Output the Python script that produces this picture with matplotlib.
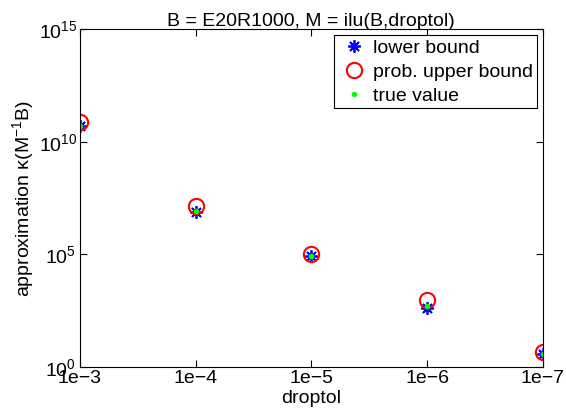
import matplotlib
matplotlib.use('Agg')
import matplotlib.pyplot as plt
import numpy as np

# droptol 類別與估計值
droptol_labels = ['1e−3', '1e−4', '1e−5', '1e−6', '1e−7']
lower_bound = [10**10.68, 10**6.90, 10**4.92, 10**2.64, 10**0.57]
upper_bound = [10**10.90, 10**7.16, 10**5.03, 10**2.98, 10**0.67]
true_value = [10**10.68, 10**6.94, 10**4.92, 10**2.71, 10**0.56]
y_exponents = [0, 5, 10, 15]

plt.rcParams['font.family'] = ['Liberation Sans', 'DejaVu Sans']
plt.rcParams['mathtext.fontset'] = 'custom'
plt.rcParams['mathtext.rm'] = 'Liberation Sans'
plt.rcParams['mathtext.it'] = 'Liberation Sans:italic'
plt.rcParams['mathtext.default'] = 'regular'

x = np.arange(1, len(droptol_labels) + 1)

fig = plt.figure(figsize=(5.66, 4.11), dpi=100)
ax = fig.add_axes([0.141, 0.107, 0.818, 0.822])

ax.semilogy(x, lower_bound, linestyle='none', marker=(8, 2, 0), color='blue',
            markersize=9, markeredgewidth=1.3, label='lower bound')
ax.semilogy(x, upper_bound, linestyle='none', marker='o', markerfacecolor='none',
            markeredgecolor='red', markersize=11, markeredgewidth=1.5,
            label='prob. upper bound')
ax.semilogy(x, true_value, linestyle='none', marker='.', color=(0, 1, 0),
            markersize=6, label='true value')

ax.set_xlim(1, 5)
ax.set_ylim(1e0, 1e15)
ax.set_xticks(x)
ax.set_xticklabels(droptol_labels)
ax.set_yticks([10.0**e for e in y_exponents])
# MATLAB 風格：底數 10 大致對齊，單位數指數右側留空
ax.set_yticklabels(['$10^{%d}$' % e + (' ' if e < 10 else '') for e in y_exponents])
ax.yaxis.set_minor_locator(matplotlib.ticker.NullLocator())
ax.tick_params(direction='in', top=True, right=True, length=5, labelsize=14)
ax.tick_params(axis='y', pad=2)
ax.tick_params(axis='x', pad=2)

ax.set_xlabel('droptol', fontsize=14, labelpad=2)
ax.set_ylabel('approximation κ(M$^{-1}$B)', fontsize=14, labelpad=2)
ax.set_title('B = E20R1000, M = ilu(B,droptol)', fontsize=14, pad=2)

leg = ax.legend(loc='upper right', fontsize=14, fancybox=False, framealpha=1,
                edgecolor='black', borderaxespad=0.3, handletextpad=0.2,
                labelspacing=0.33, borderpad=0.2, handlelength=1.6)
leg.get_frame().set_linewidth(0.8)

plt.savefig('out.png')
